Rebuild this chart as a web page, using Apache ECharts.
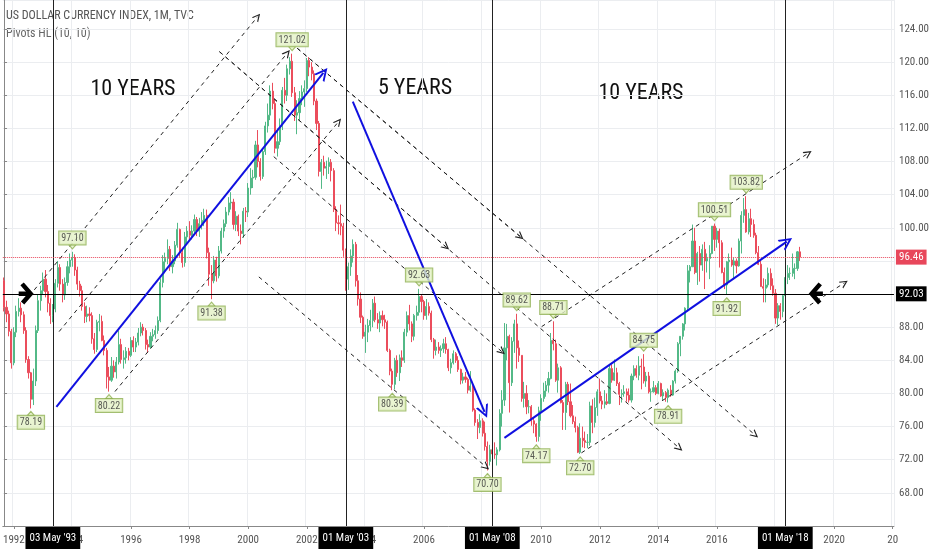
<!DOCTYPE html>
<html><head><meta charset="utf-8">
<script src="https://cdn.jsdelivr.net/npm/echarts@6/dist/echarts.min.js"></script>
<style>html,body{margin:0;padding:0;background:#fff}#c{width:932px;height:550px}</style>
</head><body><div id="c"></div><script>
// ---- data (monthly candles, Sep 1991 .. Nov 2018) ----
const startYear = 1991, startMonth = 8; // September (0-based)
const monthCount = 365;                 // axis runs to Jan 2022
const closeSeed = 93.6;                 // Aug 1991 close (open of first candle)
const closes = [
 90.4, 89.6, 87.5, 83.7,
 87.4, 89.9, 90.3, 89.5, 87.6, 84.1, 82.5, 79.3, 81.5, 87.6, 91.2, 92.4,
 93.8, 92.3, 90.9, 89.4, 90.2, 93.3, 95.2, 93.2, 91.9, 93.4, 95.3, 96.1,
 96.4, 94.9, 93.2, 92.4, 90.5, 89.3, 89.6, 89.4, 86.6, 85.3, 88.6, 88.7,
 86.4, 85.2, 82.0, 81.6, 83.3, 82.6, 83.8, 85.9, 84.1, 84.3, 85.1, 84.6,
 86.4, 85.6, 86.2, 87.3, 88.0, 87.6, 85.9, 85.6, 86.9, 87.1, 87.6, 88.8,
 93.4, 95.9, 96.3, 97.4, 95.3, 96.0, 97.9, 99.8, 97.0, 95.8, 98.9, 99.6,
 99.1, 99.6, 101.0, 99.6, 100.5, 100.9, 101.5, 97.0, 94.4, 93.6, 96.1, 94.2,
 97.2, 99.6, 100.5, 101.9, 103.0, 103.1, 100.4, 101.4, 99.6, 99.3, 102.0, 101.9,
 104.8, 106.0, 106.1, 110.0, 108.0, 106.2, 109.2, 112.3, 113.6, 116.5, 115.0, 109.6,
 110.4, 112.2, 116.6, 116.0, 119.2, 120.1, 116.3, 113.6, 113.9, 115.6, 116.4, 116.8,
 120.2, 119.4, 118.6, 115.3, 112.6, 106.8, 107.9, 107.2, 107.4, 107.9, 106.9, 102.2,
 100.6, 100.5, 100.2, 97.3, 93.8, 95.3, 96.6, 98.0, 93.6, 91.4, 89.2, 86.9,
 87.4, 88.2, 88.8, 90.9, 88.9, 88.5, 89.4, 88.9, 88.6, 85.2, 82.7, 81.1,
 84.0, 82.5, 84.3, 84.0, 87.4, 89.4, 88.4, 86.9, 89.4, 89.8, 91.7, 91.1,
 89.4, 90.5, 89.7, 86.5, 85.2, 85.6, 85.2, 85.4, 86.0, 85.3, 83.1, 83.7,
 84.8, 84.0, 82.9, 81.6, 82.0, 81.7, 80.4, 80.9, 78.0, 76.5, 75.9, 76.7,
 75.2, 73.6, 71.8, 73.2, 72.7, 72.6, 73.2, 77.6, 79.2, 85.5, 86.9, 81.3,
 86.3, 88.4, 85.5, 84.6, 79.4, 80.0, 78.4, 78.4, 76.7, 76.3, 74.8, 77.9,
 79.4, 80.3, 81.0, 81.8, 86.4, 86.0, 81.6, 83.1, 78.9, 77.7, 81.1, 79.0,
 77.3, 76.6, 75.9, 72.9, 74.6, 74.3, 74.1, 74.1, 78.5, 76.5, 78.3, 80.2,
 79.1, 78.7, 79.0, 78.8, 83.0, 81.6, 82.5, 81.2, 79.9, 80.0, 80.2, 79.8,
 79.2, 82.1, 83.0, 82.2, 83.3, 83.2, 81.5, 82.1, 80.2, 80.2, 80.7, 80.0,
 81.2, 79.7, 80.1, 79.5, 80.4, 79.8, 81.5, 82.7, 86.0, 86.9, 88.4, 90.3,
 94.8, 95.3, 98.4, 94.6, 96.9, 95.5, 97.4, 96.0, 96.3, 96.9, 100.2, 98.6,
 99.6, 98.2, 94.6, 93.1, 95.9, 96.1, 95.5, 96.0, 95.4, 98.4, 101.5, 102.2,
 99.5, 101.1, 100.4, 99.1, 97.0, 95.6, 92.9, 92.7, 93.1, 94.5, 93.0, 92.1,
 89.1, 90.6, 89.9, 91.8, 94.0, 94.5, 94.5, 95.1, 95.1, 97.1, 96.46
];
const highs = [
 94.0, 91.2, 90.0, 87.8,
 88.0, 90.6, 91.5, 91.0, 89.9, 88.0, 84.5, 82.6, 83.0, 88.2, 92.0, 93.0,
 94.6, 94.9, 93.1, 91.5, 90.8, 93.8, 96.0, 95.6, 93.8, 94.0, 96.0, 96.9,
 97.10, 96.8, 95.3, 93.6, 93.0, 91.0, 90.6, 90.4, 89.8, 87.3, 88.9, 89.6,
 89.4, 87.0, 85.5, 83.2, 84.4, 84.0, 84.4, 87.6, 86.6, 85.2, 85.6, 85.5,
 86.8, 86.9, 86.7, 87.9, 88.6, 88.4, 87.9, 86.5, 87.4, 87.8, 88.2, 89.3,
 93.9, 96.7, 97.0, 98.6, 97.8, 96.7, 98.4, 100.6, 99.9, 97.6, 99.5, 100.2,
 100.8, 100.3, 101.6, 101.3, 101.2, 101.9, 102.3, 102.2, 97.6, 95.5, 96.6, 96.5,
 97.8, 100.0, 101.0, 102.5, 103.7, 104.3, 103.5, 102.0, 101.6, 100.4, 102.4, 102.5,
 105.4, 107.2, 107.0, 110.5, 111.8, 108.4, 109.6, 112.8, 115.0, 117.2, 117.5, 115.5,
 112.0, 113.2, 117.0, 118.1, 119.7, 120.6, 121.02, 117.0, 115.4, 116.5, 117.2, 117.8,
 120.5, 120.6, 120.0, 119.0, 115.6, 112.9, 108.3, 108.7, 108.1, 108.5, 108.3, 107.2,
 102.6, 101.5, 102.8, 100.6, 97.5, 95.8, 97.4, 98.6, 98.3, 94.3, 92.2, 89.4,
 88.3, 89.0, 90.1, 91.4, 91.7, 89.7, 89.9, 90.0, 89.5, 88.8, 85.4, 83.0,
 84.3, 84.6, 84.7, 85.2, 87.8, 89.9, 90.7, 88.7, 89.6, 90.6, 92.63, 92.0,
 91.3, 91.4, 91.0, 90.0, 86.7, 86.5, 86.2, 85.8, 86.6, 86.8, 85.4, 84.2,
 85.2, 85.0, 84.5, 83.0, 82.5, 82.6, 81.9, 82.7, 81.0, 78.2, 76.9, 77.5,
 77.0, 76.6, 74.2, 73.8, 73.7, 74.1, 73.5, 78.1, 80.4, 88.5, 88.4, 87.1,
 86.8, 88.9, 89.62, 86.4, 84.6, 81.4, 81.0, 79.2, 78.6, 77.1, 76.4, 78.4,
 79.9, 81.3, 81.5, 82.6, 87.3, 88.71, 86.5, 83.6, 83.3, 79.2, 81.4, 81.4,
 81.2, 78.6, 77.2, 76.1, 76.4, 76.0, 75.4, 75.1, 79.0, 79.3, 79.5, 80.5,
 81.8, 79.7, 80.4, 80.0, 83.5, 83.5, 84.1, 83.1, 81.4, 80.5, 81.0, 80.6,
 80.6, 82.4, 83.4, 83.4, 84.5, 84.2, 84.75, 82.6, 82.6, 80.6, 81.5, 81.0,
 81.5, 81.3, 80.5, 80.3, 80.6, 81.0, 81.6, 82.9, 86.2, 86.9, 88.5, 90.4,
 95.5, 95.5, 100.39, 100.0, 97.1, 97.8, 98.0, 98.3, 96.9, 97.9, 100.2, 100.51,
 100.0, 99.9, 98.5, 95.2, 96.0, 96.9, 97.6, 96.4, 96.3, 98.7, 102.0, 103.6,
 103.82, 101.8, 102.3, 101.0, 99.4, 97.8, 96.0, 93.9, 93.8, 95.2, 95.1, 93.9,
 92.6, 90.9, 90.9, 91.9, 94.9, 95.5, 95.2, 96.9, 95.7, 97.2, 97.7
];
const lows = [
 89.9, 88.6, 86.9, 83.0,
 83.4, 86.8, 89.3, 88.6, 87.2, 83.7, 81.8, 78.19, 78.6, 80.9, 87.3, 90.0,
 91.9, 91.6, 89.8, 88.4, 88.6, 89.8, 92.8, 92.4, 91.0, 91.3, 93.0, 94.5,
 95.3, 94.2, 92.5, 91.7, 90.0, 88.5, 88.6, 88.7, 86.0, 84.8, 85.0, 87.5,
 86.3, 84.6, 80.6, 80.22, 81.4, 81.9, 81.8, 83.5, 83.6, 83.0, 83.6, 84.0,
 84.4, 85.0, 85.0, 85.8, 86.9, 87.0, 85.3, 84.9, 85.4, 86.3, 86.6, 87.2,
 88.6, 92.8, 94.5, 95.6, 94.8, 94.5, 95.6, 97.6, 96.5, 95.2, 95.3, 97.9,
 98.5, 98.6, 99.2, 99.0, 98.9, 99.8, 100.2, 96.3, 93.0, 91.38, 93.3, 93.5,
 93.9, 96.9, 98.8, 100.1, 101.5, 102.2, 99.8, 99.6, 99.0, 98.0, 98.8, 100.7,
 101.3, 104.0, 104.8, 105.8, 107.3, 105.7, 105.9, 108.8, 111.5, 113.0, 114.3, 109.0,
 108.6, 110.0, 111.8, 115.0, 115.3, 118.5, 115.8, 112.9, 111.3, 113.0, 114.8, 114.6,
 116.4, 118.3, 117.8, 114.8, 111.8, 106.2, 104.7, 106.3, 105.9, 106.5, 105.6, 101.9,
 99.6, 99.2, 99.1, 96.5, 92.4, 92.5, 94.2, 95.8, 92.9, 90.6, 88.5, 86.6,
 84.9, 86.2, 87.5, 88.0, 88.6, 87.8, 87.4, 88.1, 87.8, 85.0, 82.2, 80.39,
 80.5, 82.0, 81.5, 83.2, 83.7, 86.9, 87.6, 86.2, 86.4, 88.8, 89.4, 89.8,
 88.9, 88.9, 89.4, 86.2, 84.2, 84.6, 84.8, 84.4, 84.9, 84.8, 82.7, 82.4,
 83.5, 83.7, 82.6, 81.1, 81.2, 81.3, 80.0, 80.2, 77.8, 76.1, 74.5, 75.2,
 74.8, 73.1, 70.70, 71.3, 71.9, 72.1, 71.3, 73.0, 76.0, 78.5, 84.0, 77.7,
 80.9, 84.9, 83.0, 83.8, 79.0, 78.3, 77.5, 77.6, 76.1, 75.2, 74.17, 74.2,
 76.7, 79.0, 79.6, 80.1, 81.7, 85.2, 81.4, 80.1, 78.8, 75.6, 75.6, 78.6,
 77.1, 76.3, 75.3, 72.8, 72.70, 73.5, 73.4, 73.4, 73.7, 75.2, 75.9, 77.3,
 78.8, 78.1, 78.2, 78.6, 78.7, 81.3, 81.5, 80.9, 78.6, 78.9, 79.6, 79.0,
 78.9, 78.9, 81.6, 81.9, 81.6, 80.5, 81.2, 80.8, 80.0, 79.0, 80.1, 79.8,
 79.9, 79.6, 79.2, 79.0, 78.91, 79.6, 79.7, 81.2, 82.5, 84.5, 86.5, 87.6,
 89.9, 93.4, 95.3, 94.4, 93.1, 93.5, 94.8, 92.6, 94.6, 93.8, 96.8, 97.2,
 97.6, 95.2, 94.5, 92.6, 91.92, 93.4, 95.3, 93.8, 94.5, 95.3, 96.9, 100.6,
 99.4, 99.2, 98.9, 98.8, 96.8, 95.5, 92.9, 91.0, 91.0, 92.8, 92.5, 91.8,
 88.4, 88.25, 88.9, 89.2, 91.5, 93.2, 93.7, 94.1, 93.8, 94.8, 96.0
];
// pivot points: [month index from Sep 1991, price]
const pivotHighs = [[28, 97.10], [118, 121.02], [170, 92.63], [210, 89.62], [225, 88.71], [262, 84.75], [291, 100.51], [304, 103.82]];
const pivotLows  = [[11, 78.19], [43, 80.22], [85, 91.38], [159, 80.39], [198, 70.70], [218, 74.17], [236, 72.70], [272, 78.91], [296, 91.92]];
// drawn annotations in [month index, price]
const blueArrows = [
 [[21.45, 78.38], [130.78, 118.69]],
 [[142.85, 115.23], [196.8, 77.78]],
 [[204.96, 74.64], [320.6, 98.33]]
];
const channelLines = [
 [[12.38, 92.50], [103.84, 125.48]],
 [[22.55, 87.47], [116.03, 121.10]],
 [[45.43, 80.23], [137.0, 112.81]],
 [[88.23, 121.26], [181.06, 97.69]],
 [[88.23, 121.26], [276.6, 73.40]],
 [[120.1, 121.67], [211.5, 98.93]],
 [[120.1, 121.67], [307.6, 75.0]],
 [[110.46, 108.59], [203.9, 85.05]],
 [[104.37, 94.07], [197.44, 71.14]],
 [[220.2, 88.07], [329.4, 109.0]],
 [[236.5, 72.83], [344.2, 93.35]]
];
const boldArrows = [
 [[7.4, 93.23], [10.9, 92.03], [7.6, 90.93]],
 [[6.0, 92.03], [10.4, 92.03]],
 [[334.3, 93.23], [330.8, 92.03], [334.1, 90.93]],
 [[331.2, 92.03], [335.4, 92.03]]
];
const markers = [
 {idx: 20, text: "03 May '93"},
 {idx: 140, text: "01 May '03"},
 {idx: 200, text: "01 May '08"},
 {idx: 320, text: "01 May '18"}
];
const supportLevel = 92.03, lastPrice = 96.46;
const yTicks = {min: 64, max: 127.5, interval: 4};
const yearsText = [
 {text: '10 YEARS', x: 133, y: 89},
 {text: '5 YEARS', x: 415, y: 88},
 {text: '10 YEARS', x: 641, y: 93}
];

// ---- build ----
const cats = [];
for (let i = 0; i < monthCount; i++) {
  const y = startYear + Math.floor((startMonth + i) / 12), m = (startMonth + i) % 12;
  cats.push(y + '-' + String(m + 1).padStart(2, '0'));
}
const candles = closes.map((c, i) => {
  const o = i === 0 ? closeSeed : closes[i - 1];
  return [o, c, Math.min(lows[i], o, c), Math.max(highs[i], o, c)];
});
const isEvenJan = (i) => { const s = cats[i]; return s.endsWith('-01') && (+s.slice(0, 4)) % 2 === 0; };
const NARROW = "'Liberation Sans Narrow', 'Roboto Condensed', 'Liberation Sans', sans-serif";
const chevron = 'path://M0,10 L5,0 L10,10 L8.4,10 L5,3.2 L1.6,10 Z';
const UP = '#53b987', DOWN = '#eb4d5c';

const labelBox = {
  show: true, fontFamily: NARROW, fontSize: 10, color: '#333',
  backgroundColor: '#e4f1c6', borderColor: '#8cae4e', borderWidth: 1, padding: [2, 2, 1, 2],
  formatter: p => p.value[1].toFixed(2)
};

const chart = echarts.init(document.getElementById('c'));
chart.setOption({
  animation: false,
  backgroundColor: '#fff',
  grid: {left: 0, right: 34, top: 0, bottom: 24},
  xAxis: [{
    type: 'category', data: cats, boundaryGap: true,
    axisLine: {lineStyle: {color: '#888'}},
    axisTick: {show: true, alignWithLabel: true, interval: isEvenJan, length: 3, lineStyle: {color: '#888'}},
    axisLabel: {interval: isEvenJan, fontFamily: NARROW, fontSize: 11, color: '#555', margin: 9,
      formatter: v => { const y = v.slice(0, 4); return y === '2022' ? '20' : y; }},
    splitLine: {show: true, interval: isEvenJan, lineStyle: {color: '#ebedf0'}}
  }, {
    type: 'value', min: -0.5, max: monthCount - 0.5, show: false
  }],
  yAxis: {
    type: 'value', position: 'right', min: yTicks.min, max: yTicks.max, interval: yTicks.interval,
    axisLine: {show: true, lineStyle: {color: '#888'}},
    axisTick: {show: true, length: 3, lineStyle: {color: '#888'}},
    axisLabel: {fontFamily: NARROW, fontSize: 11, color: '#555', margin: 5, showMinLabel: false, showMaxLabel: false,
      formatter: v => v.toFixed(2)},
    splitLine: {show: true, lineStyle: {color: '#ebedf0'}}
  },
  series: [{
    type: 'candlestick', xAxisIndex: 0, yAxisIndex: 0, data: candles, barWidth: 1.6,
    itemStyle: {color: UP, color0: DOWN, borderColor: UP, borderColor0: DOWN, borderWidth: 1},
    markLine: {
      symbol: 'none', silent: true, animation: false,
      data: [
        ...markers.map(mk => ({
          xAxis: cats[mk.idx],
          lineStyle: {color: '#222', width: 1, type: 'solid'},
          label: {show: true, position: 'start', formatter: mk.text, distance: 1,
            backgroundColor: '#000', color: '#fff', fontFamily: NARROW, fontSize: 11, padding: [6, 4, 5, 4]}
        })),
        {yAxis: supportLevel, lineStyle: {color: '#000', width: 1.2, type: 'solid'},
          label: {show: true, position: 'end', formatter: supportLevel.toFixed(2), distance: 2,
            backgroundColor: '#000', color: '#fff', fontFamily: NARROW, fontSize: 11, padding: [2, 3]}},
        {yAxis: lastPrice, lineStyle: {color: '#e8475b', width: 1, type: 'dotted'},
          label: {show: true, position: 'end', formatter: lastPrice.toFixed(2), distance: 2,
            backgroundColor: '#e8475b', color: '#fff', fontFamily: NARROW, fontSize: 11, padding: [2, 3]}}
      ]
    },
    z: 3
  }, {
    type: 'lines', coordinateSystem: 'cartesian2d', xAxisIndex: 1, yAxisIndex: 0, silent: true,
    data: channelLines.map(c => ({coords: c})),
    symbol: ['none', chevron], symbolSize: 8,
    lineStyle: {color: '#222', width: 1, type: [4, 4], opacity: 1}, z: 4
  }, {
    type: 'lines', coordinateSystem: 'cartesian2d', xAxisIndex: 1, yAxisIndex: 0, silent: true,
    data: blueArrows.map(c => ({coords: c})),
    symbol: ['none', chevron], symbolSize: 13,
    lineStyle: {color: '#1010e0', width: 2, opacity: 1}, z: 5
  }, {
    type: 'lines', coordinateSystem: 'cartesian2d', xAxisIndex: 1, yAxisIndex: 0, polyline: true, silent: true,
    data: boldArrows.map(c => ({coords: c})),
    lineStyle: {color: '#000', width: 4.5, opacity: 1, cap: 'butt', join: 'miter'}, z: 6
  }, {
    type: 'scatter', xAxisIndex: 1, yAxisIndex: 0, data: pivotHighs, silent: true,
    symbol: 'path://M0,0 L10,0 L5,6 Z', symbolSize: [7, 4], symbolOffset: [0, -5],
    itemStyle: {color: '#e4f1c6', borderColor: '#8cae4e', borderWidth: 1},
    label: Object.assign({}, labelBox, {position: 'top', distance: 0}), z: 7
  }, {
    type: 'scatter', xAxisIndex: 1, yAxisIndex: 0, data: pivotLows, silent: true,
    symbol: 'path://M5,0 L10,6 L0,6 Z', symbolSize: [7, 4], symbolOffset: [0, 5],
    itemStyle: {color: '#e4f1c6', borderColor: '#8cae4e', borderWidth: 1},
    label: Object.assign({}, labelBox, {position: 'bottom', distance: 0}), z: 7
  }],
  graphic: [
    {type: 'text', left: 6, top: 10, style: {text: 'US DOLLAR CURRENCY INDEX, 1M, TVC', font: "12px " + NARROW, fill: '#555'}},
    {type: 'text', left: 6, top: 28, style: {text: 'Pivots HL (10, 10)', font: "12px " + NARROW, fill: '#666'}},
    ...yearsText.map(t => ({type: 'text', x: t.x, y: t.y,
      style: {text: t.text, font: "22px " + NARROW, fill: '#111', align: 'center', verticalAlign: 'middle'}}))
  ]
});
</script></body></html>
